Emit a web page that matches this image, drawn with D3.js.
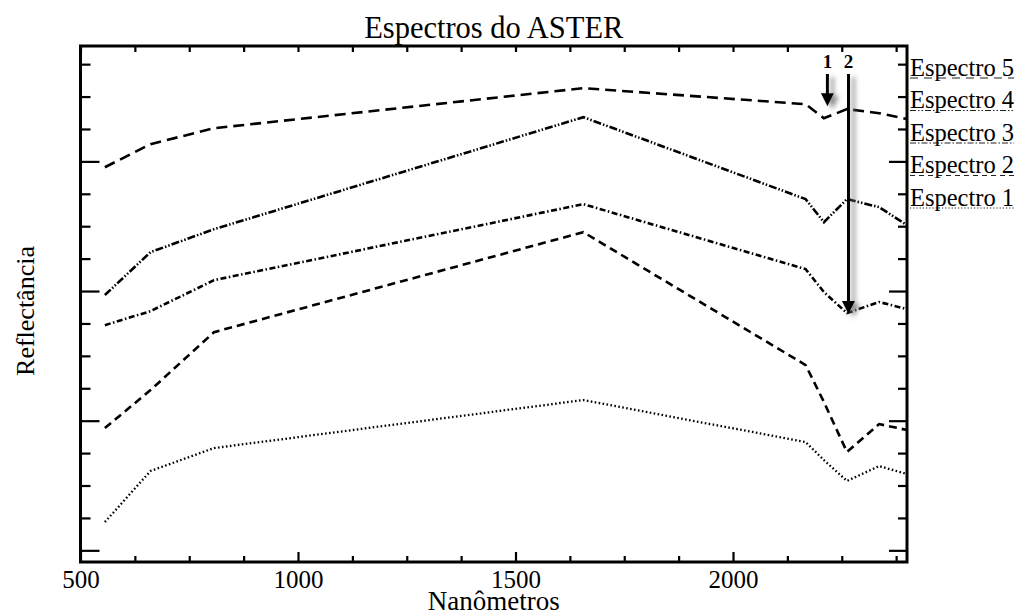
<!DOCTYPE html>
<html><head><meta charset="utf-8">
<script src="https://cdn.jsdelivr.net/npm/d3@7"></script>
<style>
html,body{margin:0;padding:0;background:#fff;}
svg{display:block;}
text{font-family:"Liberation Serif","Times New Roman",serif;fill:#000;}
</style></head>
<body>
<svg id="chart" width="1018" height="615"></svg>
<script>
// ---- data ----
const bands = [556, 661, 807, 1656, 2167, 2209, 2262, 2336, 2400];
const espectro5 = [39.55, 41.33, 42.56, 45.65, 44.41, 43.33, 44.03, 43.72, 43.26];
const espectro4 = [29.69, 33.00, 34.77, 43.41, 37.09, 35.31, 37.09, 36.47, 35.08];
const espectro3 = [27.37, 28.45, 30.84, 36.70, 31.69, 29.92, 28.30, 29.15, 28.61];
const espectro2 = [19.43, 22.36, 26.83, 34.54, 24.29, 21.44, 17.58, 19.74, 19.28];
const espectro1 = [12.18, 16.12, 17.89, 21.59, 18.35, 16.96, 15.35, 16.50, 15.88];
const seriesNames = ["Espectro 5", "Espectro 4", "Espectro 3", "Espectro 2", "Espectro 1"];
const xMajorTicks = [500, 1000, 1500, 2000];
const arrowLabels = ["1", "2"];
const arrowBands = [2209, 2262];
const arrowSeries = ["Espectro 5", "Espectro 3"];

const seriesValues = [espectro5, espectro4, espectro3, espectro2, espectro1];
const dashes = ["11,6", "8,2,1.5,2,1.5,2", "6,2.5,1.5,2.5", "8,5", "1.6,2.4"];
const legendDashes = ["8,6", "6,2,1.5,2,1.5,2", "6,2,1.5,2", "5,4", "1.2,2"];

const svg = d3.select("#chart");
const L = 80.5, R = 907, T = 46, B = 562;

const x = d3.scaleLinear().domain([500, 2400]).range([L, R]);
const y = d3.scaleLinear().domain([9.1, 48.9]).range([B, T]);

const defs = svg.append("defs");
const f = defs.append("filter").attr("id","shadow").attr("x","-200%").attr("y","-20%").attr("width","500%").attr("height","140%");
f.append("feDropShadow").attr("dx",5).attr("dy",3).attr("stdDeviation",2.5).attr("flood-color","#777").attr("flood-opacity",0.85);

// minor ticks
const xMinor = d3.range(500, 2401, 125).filter(v => v % 500 !== 0);
const yMinor = d3.range(10, 48.9, 2.5).filter(v => v % 10 !== 0);
const yMajor = [10, 20, 30, 40];

function styleAxis(g) {
  g.select(".domain").remove();
  g.selectAll(".tick line").attr("stroke", "#000").attr("stroke-width", 2.2);
  g.selectAll(".tick text").style("font-family", "Liberation Serif").style("font-size", "25px");
}

// bottom
svg.append("g").attr("transform", `translate(0,${B})`)
  .call(d3.axisBottom(x).tickValues(xMajorTicks).tickSize(-10).tickPadding(8).tickFormat(d3.format("d")))
  .call(styleAxis);
svg.append("g").attr("transform", `translate(0,${B})`)
  .call(d3.axisBottom(x).tickValues(xMinor).tickSize(-6).tickFormat(""))
  .call(styleAxis);
// top
svg.append("g").attr("transform", `translate(0,${T})`)
  .call(d3.axisTop(x).tickValues(xMajorTicks.concat(xMinor)).tickSize(-6).tickFormat(""))
  .call(styleAxis);
// left
svg.append("g").attr("transform", `translate(${L},0)`)
  .call(d3.axisLeft(y).tickValues(yMajor).tickSize(-19).tickFormat(""))
  .call(styleAxis);
svg.append("g").attr("transform", `translate(${L},0)`)
  .call(d3.axisLeft(y).tickValues(yMinor).tickSize(-10).tickFormat(""))
  .call(styleAxis);
// right
svg.append("g").attr("transform", `translate(${R},0)`)
  .call(d3.axisRight(y).tickValues(yMajor).tickSize(-18).tickFormat(""))
  .call(styleAxis);
svg.append("g").attr("transform", `translate(${R},0)`)
  .call(d3.axisRight(y).tickValues(yMinor).tickSize(-9).tickFormat(""))
  .call(styleAxis);

// frame
svg.append("rect").attr("x", L).attr("y", T).attr("width", R - L).attr("height", B - T)
  .attr("fill", "none").attr("stroke", "#000").attr("stroke-width", 3);

// lines
const line = d3.line().x((d, i) => x(bands[i])).y(d => y(d));
seriesValues.forEach((vals, k) => {
  svg.append("path").datum(vals).attr("d", line)
    .attr("fill", "none").attr("stroke", "#000")
    .attr("stroke-width", k === 4 ? 2.3 : 2.6)
    .attr("stroke-dasharray", dashes[k]);
});

// arrows
arrowBands.forEach((b, i) => {
  const s = seriesNames.indexOf(arrowSeries[i]);
  const val = seriesValues[s][bands.indexOf(b)];
  const ax = x(b) + (i === 0 ? 3.5 : 1.5);
  const tip = y(val) + (i === 0 ? -12 : 1);
  const top = 74;
  const g = svg.append("g").attr("filter", "url(#shadow)");
  g.append("line").attr("x1", ax).attr("x2", ax).attr("y1", top).attr("y2", tip - 10)
    .attr("stroke", "#000").attr("stroke-width", 3);
  g.append("path").attr("d", `M${ax - 6.5},${tip - 13} L${ax + 6.5},${tip - 13} L${ax},${tip} Z`).attr("fill", "#000");
  svg.append("text").attr("x", ax).attr("y", 68).attr("text-anchor", "middle")
    .style("font-size", "19px").style("font-weight", "bold").text(arrowLabels[i]);
});

// legend
seriesNames.forEach((n, k) => {
  const by = 75.5 + k * 32.5;
  const t = svg.append("text").attr("x", 910).attr("y", by).style("font-size", "24.5px").text(n);
  const w = t.node().getComputedTextLength();
  svg.append("line").attr("x1", 910).attr("x2", 910 + w).attr("y1", by + 2.5).attr("y2", by + 2.5)
    .attr("stroke", "#222").attr("stroke-width", 1.2).attr("stroke-dasharray", legendDashes[k]);
});

// titles
svg.append("text").attr("x", (L + R) / 2).attr("y", 38).attr("text-anchor", "middle")
  .style("font-size", "30.5px").text("Espectros do ASTER");
svg.append("text").attr("x", (L + R) / 2).attr("y", 610).attr("text-anchor", "middle")
  .style("font-size", "27px").text("Nanômetros");
svg.append("text").attr("transform", `translate(34,${(T + B) / 2 + 7}) rotate(-90)`).attr("text-anchor", "middle")
  .style("font-size", "26px").text("Reflectância");
</script>
</body></html>
